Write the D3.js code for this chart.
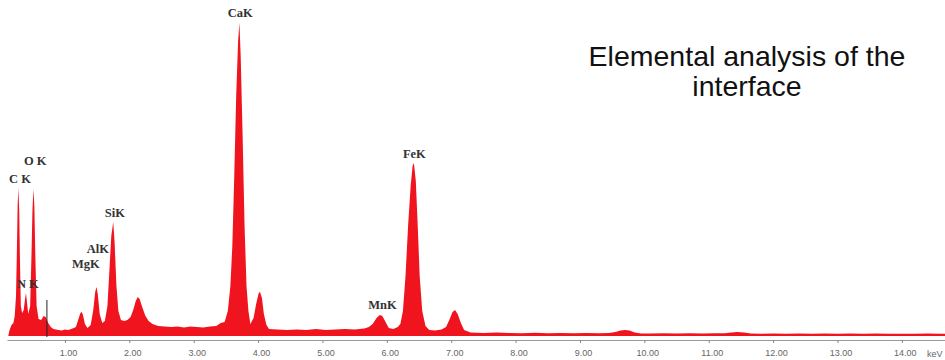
<!DOCTYPE html>
<html>
<head>
<meta charset="utf-8">
<script src="https://cdn.jsdelivr.net/npm/d3@7"></script>
<style>
  body { margin: 0; background: #fff; }
  svg { display: block; }
</style>
</head>
<body>
<script>
const svgW = 945;
const svgH = 360;

// spectrum, energy (keV) and counts
const energy = [
  0.12, 0.14, 0.17, 0.20, 0.22, 0.24, 0.255, 0.265, 0.277, 0.29, 0.30, 0.315,
  0.335, 0.36, 0.38, 0.395, 0.41, 0.43,
  0.46, 0.48, 0.495, 0.51, 0.525, 0.54, 0.56, 0.59, 0.63,
  0.67, 0.70, 0.74, 0.78, 0.82,
  0.90, 0.95, 1.00, 1.05, 1.10,
  1.17, 1.21, 1.24, 1.26, 1.28, 1.31, 1.35,
  1.40, 1.44, 1.47, 1.49, 1.51, 1.54, 1.58,
  1.62, 1.66, 1.69, 1.72, 1.75, 1.77, 1.80, 1.83, 1.87, 1.92, 1.97,
  2.02, 2.06, 2.10, 2.13, 2.16, 2.20, 2.25, 2.30, 2.36,
  2.45, 2.55, 2.65, 2.75, 2.85, 2.95, 3.05, 3.15, 3.25, 3.35, 3.42,
  3.48, 3.53, 3.57, 3.60, 3.63, 3.66, 3.69, 3.71, 3.73, 3.76, 3.79, 3.82, 3.85,
  3.88, 3.93, 3.97, 4.01, 4.03, 4.06, 4.09, 4.13, 4.17,
  4.30, 4.45, 4.60, 4.75, 4.90, 5.05, 5.20, 5.35, 5.50, 5.65, 5.72,
  5.78, 5.84, 5.89, 5.93, 5.98, 6.03, 6.10, 6.17,
  6.21, 6.25, 6.29, 6.33, 6.37, 6.40, 6.42, 6.45, 6.48, 6.51, 6.55, 6.60, 6.66,
  6.75, 6.85, 6.92, 6.97, 7.02, 7.06, 7.10, 7.15, 7.20,
  7.30, 7.50, 7.70, 7.90, 8.10, 8.30, 8.50, 8.70, 8.90, 9.10, 9.30, 9.45,
  9.55, 9.63, 9.70, 9.77, 9.85, 9.95,
  10.10, 10.30, 10.50, 10.70, 10.90, 11.10, 11.25,
  11.35, 11.44, 11.55, 11.65,
  11.80, 12.00, 12.20, 12.40, 12.60, 12.80, 13.00, 13.20, 13.40, 13.60, 13.80,
  14.00, 14.20, 14.40, 14.60, 14.70
];
const counts = [
  0, 60, 110, 130, 200, 400, 900, 1300, 1480, 1250, 800, 300,
  230, 260, 370, 430, 340, 220,
  300, 800, 1250, 1470, 1300, 800, 300, 170, 160,
  200, 190, 130, 90, 70,
  60, 55, 65, 60, 70,
  90, 170, 230, 240, 210, 120, 80,
  110, 260, 440, 490, 420, 220, 130,
  150, 300, 650, 1000, 1140, 950, 500, 250, 160, 150, 160,
  190, 260, 350, 390, 370, 290, 200, 150, 120,
  100, 95, 90, 95, 85, 95, 90, 85, 95, 100, 130,
  140, 250, 500, 900, 1600, 2400, 2950, 3133, 2800, 2000, 1100, 500, 250,
  120, 180, 320, 430, 440, 380, 220, 110, 70,
  65, 60, 65, 60, 70, 60, 65, 70, 65, 75, 90,
  120, 180, 210, 200, 140, 80, 70, 90,
  120, 250, 600, 1100, 1500, 1700, 1730, 1550, 1100, 600, 250, 100, 60,
  55, 65, 90, 160, 240, 260, 220, 130, 60,
  35, 30, 35, 30, 28, 32, 28, 30, 27, 30, 28, 30,
  40, 55, 60, 55, 35, 25,
  25, 28, 25, 28, 25, 27, 28,
  35, 40, 35, 25,
  22, 25, 22, 24, 22, 25, 22, 24, 22, 24, 22,
  23, 22, 24, 22, 22
];

// peak labels (anchor in keV / counts)
const peakNames = ['C K', 'N K', 'O K', 'MgK', 'AlK', 'SiK', 'CaK', 'MnK', 'FeK'];
const peakKeV = [0.131, 0.255, 0.364, 1.11, 1.34, 1.62, 3.53, 5.71, 6.25];
const peakCounts = [1530, 480, 1710, 680, 830, 1190, 3190, 270, 1780];

// marker line
const markerKeV = [0.72];
const markerCounts = [360];

const tickValues = d3.range(1, 15);

const svg = d3.select('body')
              .append('svg')
              .attr('width', svgW)
              .attr('height', svgH);

const xScale = d3.scaleLinear()
                  .domain([0.1, 14.67])
                  .range([7, 945]);
const yScale = d3.scaleLinear()
                  .domain([0, 3200])
                  .range([336, 16]);

const data = energy.map((e, i) => ({ e: e, c: counts[i] }));

// spectrum
const area = d3.area()
                .x(d => xScale(d.e))
                .y0(yScale(0))
                .y1(d => yScale(d.c));

svg.append('path')
    .datum(data)
    .attr('d', area)
    .attr('fill', '#f0141e');

// marker
svg.selectAll('.marker')
    .data(markerKeV)
    .enter()
    .append('line')
    .attr('class', 'marker')
    .attr('x1', d => xScale(d))
    .attr('x2', d => xScale(d))
    .attr('y1', (d, i) => yScale(markerCounts[i]))
    .attr('y2', yScale(0) + 1)
    .attr('stroke', '#222')
    .attr('stroke-width', 1);

// x axis
const xAxis = d3.axisBottom(xScale)
                .tickValues(tickValues)
                .tickFormat(d3.format('.2f'))
                .tickSizeInner(3)
                .tickSizeOuter(0);

const ax = svg.append('g')
              .attr('transform', 'translate(0, 340)')
              .call(xAxis);
ax.select('.domain').attr('stroke', '#999');
ax.selectAll('.tick line').attr('stroke', '#888');
ax.selectAll('.tick text')
  .attr('fill', '#666')
  .attr('font-family', 'Liberation Sans, Arial, sans-serif')
  .attr('font-size', 9)
  .attr('dx', 3)
  .attr('y', 10);

svg.append('text')
    .attr('x', 927)
    .attr('y', 357)
    .attr('fill', '#666')
    .attr('font-family', 'Liberation Sans, Arial, sans-serif')
    .attr('font-size', 9)
    .text('keV');

// peak labels
svg.selectAll('.peak')
    .data(peakNames)
    .enter()
    .append('text')
    .attr('class', 'peak')
    .attr('x', (d, i) => xScale(peakKeV[i]))
    .attr('y', (d, i) => yScale(peakCounts[i]))
    .attr('fill', '#333')
    .attr('font-family', 'Liberation Serif, Times New Roman, serif')
    .attr('font-weight', 'bold')
    .attr('font-size', 12.5)
    .style('white-space', 'pre')
    .text(d => d);

// title
const title = svg.append('text')
                  .attr('text-anchor', 'middle')
                  .attr('fill', '#111')
                  .attr('font-family', 'Liberation Sans, Arial, sans-serif')
                  .attr('font-size', 28.5);
title.append('tspan').attr('x', 747).attr('y', 66).text('Elemental analysis of the');
title.append('tspan').attr('x', 747).attr('y', 96).text('interface');
</script>
</body>
</html>
